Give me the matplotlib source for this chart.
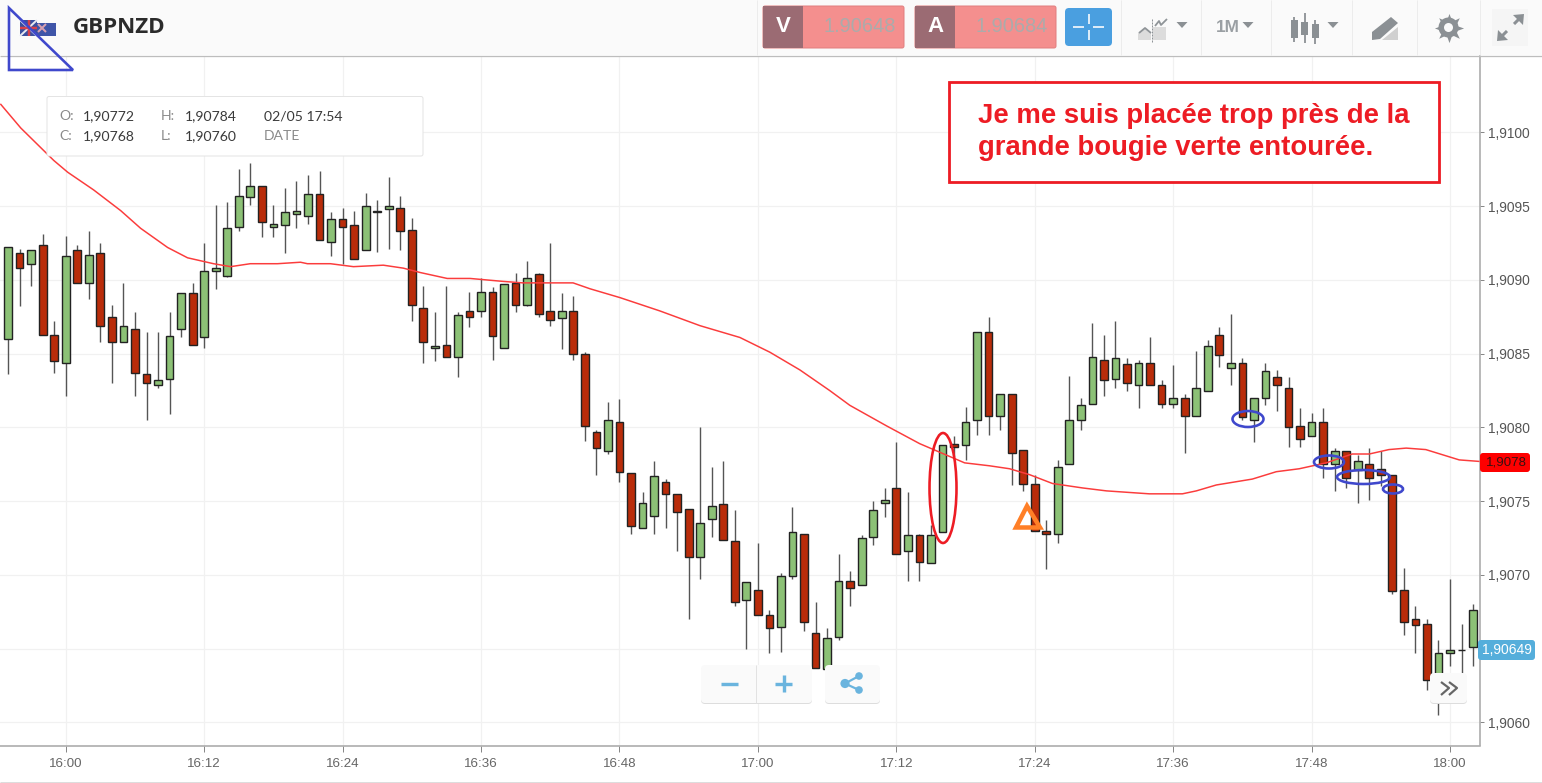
import matplotlib
matplotlib.use("Agg")
import matplotlib.pyplot as plt
from matplotlib.patches import Rectangle, FancyBboxPatch, Ellipse, Polygon, Circle

# Prices are stored as 1e-5 units above 1.90000
opens = [860,918,911,924,863,844,920,898,918,875,858,867,836,829,833,867,891,861,906,903,936,956,964,936,937,945,943,958,926,941,937,920,946,948,949,934,881,854,856,848,879,879,892,854,898,883,904,879,874,879,850,797,784,804,769,732,740,763,755,745,712,738,748,723,683,690,673,665,699,728,661,636,658,696,693,726,749,759,716,727,708,729,789,788,805,865,808,823,785,762,730,728,775,805,816,846,833,843,829,844,829,816,820,808,825,863,840,844,805,820,834,827,801,794,804,775,784,771,775,772,768,690,670,667,633,647,649,651]
closes = [922,908,920,863,845,916,898,917,869,858,869,837,830,832,862,891,856,906,908,935,957,964,939,938,946,947,958,927,941,936,914,950,947,950,933,883,858,855,848,876,875,892,862,897,883,901,877,873,879,850,801,786,805,770,733,749,767,755,743,712,735,747,724,682,695,673,664,699,729,668,637,657,696,691,725,744,751,714,727,709,727,788,787,804,865,808,823,783,762,730,728,773,805,815,848,832,847,830,844,829,816,820,808,827,855,849,844,807,820,838,829,800,792,804,775,784,766,777,766,768,689,668,666,629,647,649,649,676]
highs = [922,921,920,931,872,930,924,933,925,883,898,878,865,865,878,891,898,925,951,953,975,979,964,951,962,967,971,974,946,949,947,959,954,970,957,942,896,878,896,878,892,901,895,897,905,913,905,925,891,889,851,798,817,819,769,756,777,765,755,745,800,773,777,744,695,722,676,701,746,728,682,664,714,703,727,750,759,790,756,728,734,788,794,814,865,875,823,823,785,768,737,778,835,820,871,863,872,847,846,861,832,842,823,852,859,868,877,847,820,844,839,834,813,810,813,786,784,781,786,784,768,705,679,670,656,697,667,680]
lows = [836,882,896,863,837,821,898,887,858,830,858,821,805,827,809,861,856,854,894,902,933,951,929,929,918,935,938,927,916,911,914,920,919,921,920,872,844,845,848,834,868,875,846,854,878,882,875,869,853,846,791,768,782,763,728,732,728,732,716,670,697,726,724,679,650,673,647,648,697,662,637,636,656,679,693,720,739,714,696,696,708,729,780,778,795,795,798,761,757,730,704,722,775,798,816,821,827,825,813,829,813,813,783,808,825,841,829,805,790,815,811,787,787,794,766,757,759,749,751,760,687,659,647,622,605,638,633,638]
first_minute = -5  # minutes relative to 16:00

ma_minutes = [-5.63,-3.9,-1.04,0.17,2.42,4.76,6.49,8.83,10.56,12.81,14.29,16.0,18.35,20.35,20.95,22.94,24.94,27.53,29.26,30.74,33.07,35.06,37.92,39.65,43.98,45.45,48.05,51.5,54.98,58.44,61.04,63.64,66.23,67.97,71.17,74.03,77.92,80.09,81.82,83.55,85.54,88.14,90.22,93.94,96.8,98.01,99.74,102.86,104.94,106.93,109.26,111.52,113,114.7,116.2,117.9,120.8,122.5]
ma_values = [1019,1003,981,973,961,947,935,922,915,911,909,911,911,912,911,911,909,910,908,905,901,901,899,898,898,894,888,879,869,861,851,839,825,815,801,789,776,774,772,768,762,759,757,755,755,757,761,765,770,772,776,782,782,785,786,785,778,777]

time_ticks = [0,12,24,36,48,60,72,84,96,108,120]
time_labels = ["16:00","16:12","16:24","16:36","16:48","17:00","17:12","17:24","17:36","17:48","18:00"]
price_ticks = [1.9060,1.9065,1.9070,1.9075,1.9080,1.9085,1.9090,1.9095,1.9100]
# 1,9065 sits hidden under the current-price label in the reference
price_labels = ["1,9060","","1,9070","1,9075","1,9080","1,9085","1,9090","1,9095","1,9100"]

W, H = 1542, 783
P = 0.72  # points per pixel at dpi 100
plt.rcParams["font.family"] = ["Liberation Sans", "DejaVu Sans"]
fig = plt.figure(figsize=(W/100, H/100), dpi=100, facecolor="white")

AX_L, AX_R, AX_T, AX_B = 0, 1480, 56, 745.5
ax = fig.add_axes([AX_L/W, 1-AX_B/H, (AX_R-AX_L)/W, (AX_B-AX_T)/H])
ax.set_xlim(-5.7, 122.6)
ax.set_ylim(1.905844, 1.910518)

def pr(v):
    return 1.9 + v*1e-5

xs = [first_minute+i for i in range(len(opens))]
GREEN, RED = "#8cc176", "#b92c0a"
ax.vlines(xs, [pr(v) for v in lows], [pr(v) for v in highs], color="#555555", lw=1.4*P, zorder=2)
for x, o, c in zip(xs, opens, closes):
    up = c >= o
    ax.bar(x, pr(abs(c-o)) - 1.9, bottom=pr(min(o, c)), width=0.67,
           color=GREEN if up else RED, edgecolor="#222222", lw=1.4*P, zorder=3)
ax.plot(ma_minutes, [pr(v) for v in ma_values], color="#fb3c3c", lw=1.5*P, zorder=4)

ax.set_xticks(time_ticks, time_labels)
ax.yaxis.tick_right()
ax.set_yticks(price_ticks, price_labels)
ax.grid(True, color="#f1f1f1", lw=1.2*P, zorder=0)
ax.set_axisbelow(True)
for s in ["left", "top"]:
    ax.spines[s].set_visible(False)
for s in ["right", "bottom"]:
    ax.spines[s].set_color("#aaaaaa")
    ax.spines[s].set_linewidth(1.6*P)
ax.tick_params(axis="x", length=6*P, width=1*P, color="#888888", labelcolor="#666666", labelsize=9.6, pad=5)
ax.tick_params(axis="y", length=4*P, width=1*P, color="#888888", labelcolor="#555555", labelsize=9.9, pad=3)

# Overlay in pixel coordinates for the interface parts and hand-drawn annotations
ov = fig.add_axes([0, 0, 1, 1], zorder=10)
ov.set_xlim(0, W); ov.set_ylim(H, 0); ov.axis("off"); ov.patch.set_alpha(0)

def rect(x0, y0, x1, y1, fc, ec="none", lw=0, z=1):
    ov.add_patch(Rectangle((x0, y0), x1-x0, y1-y0, fc=fc, ec=ec, lw=lw*P, zorder=z))

def rbox(x0, y0, x1, y1, fc, ec="none", lw=0, r=3, z=1):
    ov.add_patch(FancyBboxPatch((x0+r, y0+r), x1-x0-2*r, y1-y0-2*r, boxstyle=f"round,pad={r},rounding_size={r}",
                                fc=fc, ec=ec, lw=lw*P, zorder=z))

def line(xv, yv, c, lw, z=3, **kw):
    ov.plot(xv, yv, color=c, lw=lw*P, zorder=z, solid_capstyle=kw.pop("cap", "butt"), **kw)

# top bar
rect(0, 0, W, 55, "#fafafa")
line([0, W], [55.5, 55.5], "#bdbdbd", 1.3)
for sx in [1121, 1201, 1271, 1352, 1417, 1480]:
    line([sx, sx], [0, 55], "#ececec", 1)
line([757, 757], [0, 55], "#ececec", 1)

# flag
rect(20, 20, 37, 36, "#3a4f9f", z=2)
rect(37, 23, 56, 36, "#3f55a8", z=2)
line([20, 37], [20, 36], "#e8e8f0", 2)
line([20, 37], [36, 20], "#e8e8f0", 2)
line([28.5, 28.5], [20, 36], "#d8404a", 2.5)
line([20, 37], [28, 28], "#d8404a", 2.5)
line([38, 46], [24, 32], "#d8a0b0", 2)
line([38, 46], [32, 24], "#d8a0b0", 2)
ov.text(72.5, 27.5, "GBPNZD", family="Open Sans", weight="bold", fontsize=16.1, color="#2b2b2b", va="center", ha="left", zorder=4)

# bid / ask
for x0, lab, val in [(763, "V", "1.90648"), (915, "A", "1.90684")]:
    rbox(x0, 6, x0+141, 48, "#f48f8e", ec="#e27f7f", lw=1, r=2, z=2)
    rect(x0, 6, x0+40, 48, "#9b6b73", z=3)
    ov.text(x0+20.5, 27, lab, color="white", weight="bold", fontsize=16, ha="center", va="center", zorder=4)
    ov.text(x0+132.5, 27, val, color="#ababab", fontsize=14.4, ha="right", va="center", zorder=4)
rbox(1065, 8, 1112, 46, "#4a9fe0", r=4, z=2)
for a, b in [([1088.5, 1088.5], [14, 24]), ([1088.5, 1088.5], [30, 40]), ([1073, 1084], [27, 27]), ([1093, 1104], [27, 27])]:
    line(a, b, "white", 1.6)

# toolbar icons
G = "#9a9fa3"
ov.add_patch(Polygon([(1138, 40), (1138, 33), (1145, 28), (1151, 33), (1151, 40)], fc="#dcdcdc", zorder=3))
rect(1153, 27, 1166, 40, "#dcdcdc", z=3)
line([1139, 1145, 1151], [33, 28, 33], "#8f9498", 1.8)
line([1155, 1159, 1161, 1167], [26, 21, 25, 19], "#8f9498", 1.8)
line([1151.5, 1151.5], [19, 42], "#8f9498", 1, ls=(0, (2, 1)))
tri = lambda cx: ov.add_patch(Polygon([(cx-5.5, 22), (cx+5.5, 22), (cx, 28)], fc="#8b9094", zorder=3))
tri(1182); tri(1248); tri(1333)
ov.text(1228, 28, "1M", color=G, weight="bold", fontsize=12.4, ha="center", va="center", zorder=4)
for cx, t, b, hi, lo in [(1294, 19.5, 37.5, 17, 42), (1304.5, 22, 35, 13, 43), (1315, 24, 38, 20, 44)]:
    line([cx, cx], [hi, lo], "#8b9094", 1.8)
    rect(cx-3.5, t, cx+3.5, b, "#8b9094", z=3)
ov.add_patch(Polygon([(1372, 32), (1391, 17), (1398, 23), (1380, 39), (1372, 40)], fc="#8b9094", zorder=3))
ov.add_patch(Polygon([(1382, 40), (1398, 27), (1398, 40)], fc="#d0d0d0", zorder=3))
ov.plot([1448.5], [27.5], marker=(8, 1, 0), ms=27*P*1.08, color="#8b9094", mew=0, zorder=3)
ov.add_patch(Circle((1448.5, 27.5), 10, fc="#8b9094", zorder=3))
ov.add_patch(Circle((1448.5, 27.5), 4.5, fc="#fafafa", zorder=4))
rect(1492, 9, 1528, 46, "#f5f5f5", z=2)
line([1500, 1507], [38, 31], "#8b9094", 3)
line([1514, 1521], [24, 17], "#8b9094", 3)
ov.add_patch(Polygon([(1524, 14), (1513, 15), (1523, 25)], fc="#8b9094", zorder=4))
ov.add_patch(Polygon([(1497, 41), (1508, 40), (1498, 30)], fc="#8b9094", zorder=4))

# annotation triangle
ov.add_patch(Polygon([(9, 8), (9, 70), (73, 70)], fc="none", ec="#3f48cc", lw=2.6*P, joinstyle="miter", zorder=5))

# tooltip
rbox(47, 96.5, 423, 156, "white", ec="#e4e4e4", lw=1, r=2, z=2)
for x, y, s, c in [(59, 116.5, "O:", "#8a8a8a"), (83, 116.5, "1,90772", "#3a3a3a"), (161, 116.5, "H:", "#8a8a8a"),
                   (185, 116.5, "1,90784", "#3a3a3a"), (264, 116.5, "02/05 17:54", "#3a3a3a"),
                   (59, 136.5, "C:", "#8a8a8a"), (83, 136.5, "1,90768", "#3a3a3a"), (161, 136.5, "L:", "#8a8a8a"),
                   (185, 136.5, "1,90760", "#3a3a3a"), (264, 136.5, "DATE", "#8a8a8a")]:
    ov.text(x, y, s, color=c, family="Lato", fontsize=10.1, ha="left", va="center", zorder=3)

# note box
ov.add_patch(Rectangle((949, 81.5), 490, 100, fc="white", ec="#ed1c24", lw=2.8*P, zorder=2))
NOTE = "#ed1c24"
ov.text(978, 123, "Je me suis placée trop près de la", color=NOTE, weight="bold", fontsize=19.85, ha="left", va="baseline", zorder=3)
ov.text(978, 155, "grande bougie verte entourée.", color=NOTE, weight="bold", fontsize=19.85, ha="left", va="baseline", zorder=3)

# hand-drawn marks
ov.add_patch(Ellipse((943, 488), 27, 110, fc="none", ec="#ed1c24", lw=2.6*P, zorder=5))
ov.add_patch(Polygon([(1027, 506), (1016, 527.5), (1040, 527.5)], fc="none", ec="#ff7f27", lw=4.5*P, joinstyle="miter", zorder=5))
for cx, cy, w, h in [(1248, 419, 31, 16), (1329, 462, 30, 13), (1363.5, 477, 53, 14), (1393, 489, 20, 9)]:
    ov.add_patch(Ellipse((cx, cy), w, h, fc="none", ec="#3f48cc", lw=2.6*P, zorder=5))

# price labels
rbox(1480, 453, 1530, 472, "#fe0000", r=3, z=4)
ov.text(1506, 462.8, "1,9078", color="#3a1010", fontsize=9.6, ha="center", va="center", zorder=5)
rbox(1478, 640, 1535, 660, "#55aedb", r=3, z=4)
ov.text(1507, 650.3, "1,90649", color="white", fontsize=10, ha="center", va="center", zorder=5)

# floating buttons
BL = "#6ab4de"
rbox(701, 667, 812, 704, "#dddddd", r=4, z=2)
rbox(701, 665, 812, 703, "#fafafa", r=4, z=3)
line([755.5, 755.5], [665, 703], "#e2e2e2", 1, z=4)
line([721, 738], [683.5, 683.5], BL, 3.4, z=4)
line([775, 792], [683.5, 683.5], BL, 3.4, z=4)
line([783.5, 783.5], [675, 692], BL, 3.4, z=4)
rbox(825, 667, 880, 704, "#dddddd", r=4, z=2)
rbox(825, 665, 880, 703, "#fafafa", r=4, z=3)
line([859, 845, 859], [676, 683.5, 690], BL, 2.2, z=4)
for c in [(845, 683.5, 4.6), (859, 676, 3.8), (859, 690, 3.8)]:
    ov.add_patch(Circle(c[:2], c[2], fc=BL, zorder=5))
rbox(1430, 675, 1467, 704, "#dddddd", r=4, z=2)
rbox(1430, 673, 1467, 703, "#fafafa", r=4, z=3)
line([1441, 1449, 1441], [682, 688, 695], "#666666", 2.2, z=4)
line([1449, 1457, 1449], [682, 688, 695], "#666666", 2.2, z=4)

# bottom edge
line([0, W], [781.5, 781.5], "#dddddd", 1)

fig.savefig("out.png", dpi=100, facecolor="white")
